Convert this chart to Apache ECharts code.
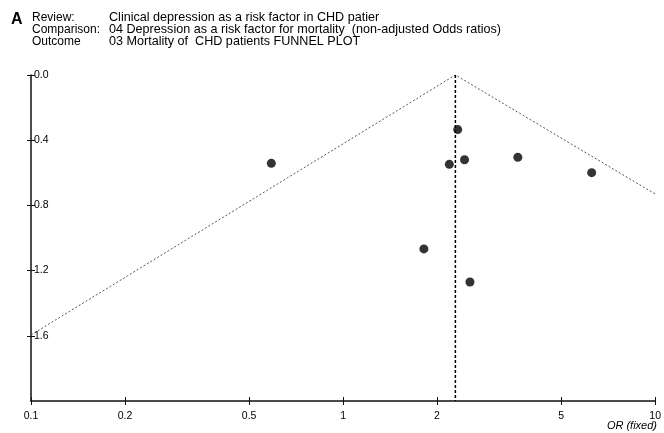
<!DOCTYPE html>
<html>
<head>
<meta charset="utf-8">
<script src="https://cdn.jsdelivr.net/npm/echarts@6/dist/echarts.min.js"></script>
<style>
html,body{margin:0;padding:0;background:#fff;}
#chart{width:664px;height:433px;}
</style>
</head>
<body>
<div id="chart"></div>
<script>
// Study points: odds ratio (x) and standard error of log OR (y)
const studyOR = [2.33, 2.19, 2.45, 3.63, 6.26, 1.815, 2.55, 0.589];
const studySE = [0.335, 0.548, 0.520, 0.505, 0.599, 1.067, 1.270, 0.542];
// Pooled fixed-effect OR (vertical line)
const pooledOR = 2.29;
const seRange = [0, 2.0];
// Funnel (95% limits) outline: [OR, SE]
const funnelOR = [0.1, 2.29, 10];
const funnelSE = [1.595, 0, 0.73];
// Tick labels
const xTicks = [0.1, 0.2, 0.5, 1, 2, 5, 10];
const yTicks = [0, 0.4, 0.8, 1.2, 1.6];
const headerLabels = ['Review:', 'Comparison:', 'Outcome'];
const headerValues = [
  'Clinical depression as a risk factor in CHD patier',
  '04 Depression as a risk factor for mortality  (non-adjusted Odds ratios)',
  '03 Mortality of  CHD patients FUNNEL PLOT'
];

const FONT = '"Liberation Sans", Arial, sans-serif';
const chart = echarts.init(document.getElementById('chart'), null, {renderer: 'canvas'});

const headerRowsY = [18, 29.8, 41.4];
const graphics = [{
  type: 'text', x: 11, y: 19.5,
  style: {text: 'A', font: 'bold 16px ' + FONT, fill: '#000', textVerticalAlign: 'middle'}
}];
headerLabels.forEach((t, i) => {
  graphics.push({type: 'text', x: 32, y: headerRowsY[i],
    style: {text: t, font: '12px ' + FONT, fill: '#000', textVerticalAlign: 'middle'}});
  graphics.push({type: 'text', x: 109, y: headerRowsY[i],
    style: {text: headerValues[i], font: '12.6px ' + FONT, fill: '#000', textVerticalAlign: 'middle'}});
});
graphics.push({type: 'text', x: 657, y: 426,
  style: {text: 'OR (fixed)', font: 'italic 11px ' + FONT, fill: '#000', textAlign: 'right', textVerticalAlign: 'middle'}});

const fmtX = v => {
  const r = Math.round(v * 10) / 10;
  return String(r);
};

const baseX = {
  type: 'log', logBase: 10, min: 0.1, max: 10, position: 'bottom',
  splitLine: {show: false}
};
const baseY = {
  type: 'value', inverse: true, min: seRange[0], max: seRange[1], position: 'left',
  splitLine: {show: false}
};

const option = {
  backgroundColor: '#fff',
  animation: false,
  grid: {left: 31, right: 7, top: 75, bottom: 32, containLabel: false},
  graphic: graphics,
  xAxis: [
    Object.assign({}, baseX, {
      axisLine: {show: true, onZero: false, lineStyle: {color: '#111', width: 1.5}},
      axisTick: {show: true, inside: false, length: 4, customValues: xTicks, lineStyle: {color: '#111', width: 1}},
      axisLabel: {show: true, customValues: xTicks, margin: 10, fontSize: 10.5, fontFamily: FONT, color: '#000', formatter: fmtX}
    }),
    Object.assign({}, baseX, {
      axisLine: {show: false, onZero: false},
      axisTick: {show: true, inside: true, length: 4, customValues: xTicks, lineStyle: {color: '#111', width: 1}},
      axisLabel: {show: false}
    })
  ],
  yAxis: [
    Object.assign({}, baseY, {
      axisLine: {show: true, onZero: false, lineStyle: {color: '#111', width: 1.5}},
      axisTick: {show: true, inside: false, length: 4, customValues: yTicks, lineStyle: {color: '#111', width: 1}},
      axisLabel: {show: true, inside: true, customValues: yTicks, margin: 3, fontSize: 10.5, fontFamily: FONT, color: '#000',
        formatter: v => Number(v).toFixed(1)}
    }),
    Object.assign({}, baseY, {
      axisLine: {show: false, onZero: false},
      axisTick: {show: true, inside: true, length: 4, customValues: yTicks, lineStyle: {color: '#111', width: 1}},
      axisLabel: {show: false}
    })
  ],
  series: [
    {
      type: 'line', xAxisIndex: 0, yAxisIndex: 0, silent: true,
      data: funnelOR.map((v, i) => [v, funnelSE[i]]),
      symbol: 'none',
      lineStyle: {color: '#444', width: 0.9, type: [2, 2]},
      z: 2
    },
    {
      type: 'line', xAxisIndex: 0, yAxisIndex: 0, silent: true,
      data: [[pooledOR, seRange[0]], [pooledOR, seRange[1]]],
      symbol: 'none',
      lineStyle: {color: '#000', width: 1.5, type: [3, 2]},
      z: 3
    },
    {
      type: 'scatter', xAxisIndex: 0, yAxisIndex: 0,
      data: studyOR.map((v, i) => [v, studySE[i]]),
      symbol: 'circle', symbolSize: 9,
      itemStyle: {color: '#000'},
      z: 4
    }
  ]
};
chart.setOption(option);
</script>
</body>
</html>
